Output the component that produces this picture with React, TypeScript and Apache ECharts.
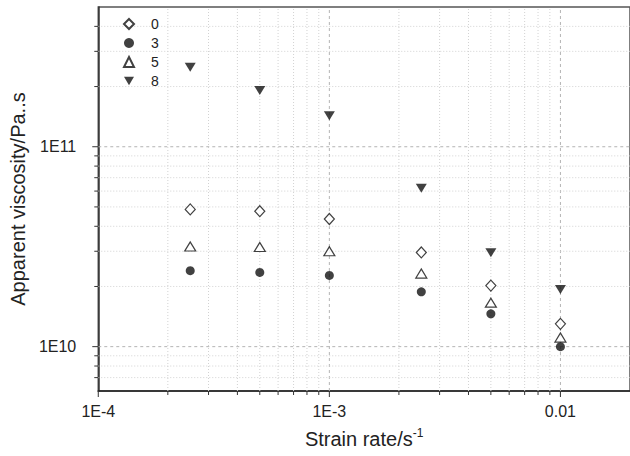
import React, { useEffect, useRef } from "react";
import * as echarts from "echarts";

// Strain rate (1/s) at which each sample was measured
const strainRates = [2.5e-4, 5e-4, 1e-3, 2.5e-3, 5e-3, 1e-2];

// Apparent viscosity (Pa·s) per additive content
const visc0 = [4.86e10, 4.76e10, 4.35e10, 2.96e10, 2.02e10, 1.3e10];
const visc3 = [2.4e10, 2.35e10, 2.27e10, 1.88e10, 1.46e10, 1.0e10];
const visc5 = [3.17e10, 3.15e10, 3.0e10, 2.32e10, 1.66e10, 1.11e10];
const visc8 = [2.5e11, 1.91e11, 1.43e11, 6.2e10, 2.95e10, 1.93e10];

const seriesNames = ["0", "3", "5", "8"];

// Axis ranges
const X_MIN = 1e-4;
const X_MAX = 2e-2;
const Y_MIN = 6e9;
const Y_MAX = 5e11;

// Major tick values and their labels
const xMajorTicks = [1e-4, 1e-3, 1e-2];
const xMajorLabels = ["1E-4", "1E-3", "0.01"];
const yMajorTicks = [1e10, 1e11];
const yMajorLabels = ["1E10", "1E11"];

// Mantissas for the minor (2..9) decade ticks
const minorMantissas = [2, 3, 4, 5, 6, 7, 8, 9];

const FONT = "'Liberation Sans', Arial, Helvetica, sans-serif";

function decadeTicks(majors: number[], lo: number, hi: number) {
  const out: [number, number][] = [];
  const decades = [...majors.map((m) => m / 10), ...majors];
  const seen = new Set<number>();
  for (const d of decades) {
    for (const m of minorMantissas) {
      const v = +(d * m).toPrecision(6);
      if (v > lo && v < hi && !seen.has(v)) {
        seen.add(v);
        out.push([v, 0]);
      }
    }
  }
  for (const v of majors) out.push([v, 1]);
  return out;
}

function labelFor(values: number[], labels: string[], v: number) {
  for (let i = 0; i < values.length; i++) {
    if (Math.abs(Math.log10(v) - Math.log10(values[i])) < 1e-6) return labels[i];
  }
  return "";
}

const pair = (ys: number[]) => strainRates.map((x, i) => [x, ys[i]]);

export default function App() {
  const ref = useRef<HTMLDivElement>(null);

  useEffect(() => {
    if (!ref.current) return;
    const chart = echarts.init(ref.current, null, { renderer: "svg" });

    const xTicks = decadeTicks(xMajorTicks, X_MIN, X_MAX);
    const yTicks = decadeTicks(yMajorTicks, Y_MIN, Y_MAX);

    const minorGrid = { stroke: "#d2d2d2", lineWidth: 1, lineDash: [1, 2] };
    const majorGrid = { stroke: "#b4b4b4", lineWidth: 1, lineDash: [3, 3] };
    const tickStyle = { stroke: "#333", lineWidth: 1 };

    const xLines = {
      type: "custom",
      silent: true,
      z: 1,
      data: xTicks.map(([v, major]) => [v, Y_MIN, major]),
      renderItem: (_p: any, api: any) => {
        const v = api.value(0);
        const major = api.value(2) === 1;
        const b = api.coord([v, Y_MIN]);
        const t = api.coord([v, Y_MAX]);
        const children: any[] = [];
        if (v > X_MIN * 1.0001 && v < X_MAX) {
          children.push({
            type: "line",
            shape: { x1: b[0], y1: b[1], x2: t[0], y2: t[1] },
            style: major ? majorGrid : minorGrid,
          });
        }
        children.push({
          type: "line",
          shape: { x1: b[0], y1: b[1], x2: b[0], y2: b[1] + (major ? 6 : 4) },
          style: tickStyle,
        });
        return { type: "group", children };
      },
    };

    const yLines = {
      type: "custom",
      silent: true,
      z: 1,
      data: yTicks.map(([v, major]) => [X_MIN, v, major]),
      renderItem: (_p: any, api: any) => {
        const v = api.value(1);
        const major = api.value(2) === 1;
        const l = api.coord([X_MIN, v]);
        const r = api.coord([X_MAX, v]);
        return {
          type: "group",
          children: [
            {
              type: "line",
              shape: { x1: l[0], y1: l[1], x2: r[0], y2: r[1] },
              style: major ? majorGrid : minorGrid,
            },
            {
              type: "line",
              shape: { x1: l[0], y1: l[1], x2: l[0] - (major ? 6 : 4), y2: l[1] },
              style: tickStyle,
            },
          ],
        };
      },
    };

    const ink = "#111";

    chart.setOption({
      animation: false,
      backgroundColor: "#fff",
      textStyle: { fontFamily: FONT },
      grid: {
        left: 98,
        top: 7,
        bottom: 65,
        right: -2,
        show: true,
        borderColor: "#555",
        borderWidth: 1.5,
      },
      legend: {
        data: [
          { name: seriesNames[0] },
          { name: seriesNames[1] },
          { name: seriesNames[2] },
          { name: seriesNames[3], icon: "path://M0,0L12,0L6,10Z" },
        ],
        orient: "vertical",
        left: 123,
        top: 17,
        padding: 0,
        itemWidth: 10,
        itemHeight: 10,
        itemGap: 5,
        textStyle: { fontSize: 14, color: "#222", fontFamily: FONT, padding: [0, 0, 0, 12] },
      },
      xAxis: {
        type: "log",
        logBase: 10,
        min: X_MIN,
        max: X_MAX,
        name: "Strain rate/s{sup|-1}",
        nameLocation: "middle",
        nameGap: 36,
        nameTextStyle: {
          fontSize: 20,
          color: "#222",
          fontFamily: FONT,
          lineHeight: 24,
          rich: {
            sup: { fontSize: 12, verticalAlign: "top", lineHeight: 24, color: "#222", fontFamily: FONT },
          },
        },
        axisLine: { show: true, lineStyle: { color: "#222", width: 1.5 } },
        axisTick: { show: false },
        minorTick: { show: false },
        splitLine: { show: false },
        axisLabel: {
          fontSize: 16,
          color: "#222",
          margin: 12,
          showMaxLabel: false,
          formatter: (v: number) => labelFor(xMajorTicks, xMajorLabels, v),
        },
      },
      yAxis: {
        type: "log",
        logBase: 10,
        min: Y_MIN,
        max: Y_MAX,
        name: "Apparent viscosity/Pa..s",
        nameLocation: "middle",
        nameGap: 68,
        nameTextStyle: { fontSize: 20, color: "#222", fontFamily: FONT },
        axisLine: { show: true, lineStyle: { color: "#333", width: 1.5 } },
        axisTick: { show: false },
        minorTick: { show: false },
        splitLine: { show: false },
        axisLabel: {
          fontSize: 16,
          color: "#222",
          margin: 22,
          showMinLabel: false,
          showMaxLabel: false,
          formatter: (v: number) => labelFor(yMajorTicks, yMajorLabels, v),
        },
      },
      series: [
        xLines,
        yLines,
        {
          name: "0",
          type: "scatter",
          z: 3,
          symbol: "diamond",
          symbolSize: [10, 11],
          itemStyle: { color: "#fff", borderColor: ink, borderWidth: 1.2 },
          data: pair(visc0),
        },
        {
          name: "3",
          type: "scatter",
          z: 3,
          symbol: "circle",
          symbolSize: 9,
          itemStyle: { color: ink },
          data: pair(visc3),
        },
        {
          name: "5",
          type: "scatter",
          z: 3,
          symbol: "triangle",
          symbolSize: [11, 9],
          itemStyle: { color: "#fff", borderColor: ink, borderWidth: 1.2 },
          data: pair(visc5),
        },
        {
          name: "8",
          type: "scatter",
          z: 3,
          symbol: "triangle",
          symbolRotate: 180,
          symbolSize: [11, 9],
          itemStyle: { color: ink },
          data: pair(visc8),
        },
      ],
    } as any);

    return () => chart.dispose();
  }, []);

  return (
    <div
      ref={ref}
      style={{ position: "fixed", left: 0, top: 0, width: 630, height: 456, overflow: "hidden" }}
    />
  );
}
